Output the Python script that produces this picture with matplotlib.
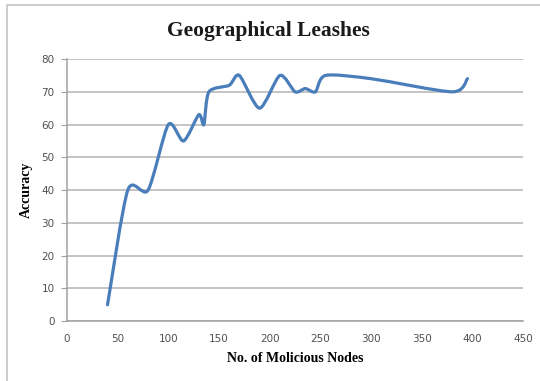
import matplotlib
matplotlib.use('Agg')
import matplotlib.pyplot as plt
from matplotlib.path import Path
from matplotlib.patches import PathPatch
from matplotlib.lines import Line2D

nodes = [40, 60, 80, 100, 115, 130, 135, 140, 160, 170, 190, 210, 225, 235, 245, 255, 300, 380, 395]
accuracy = [5, 40, 40, 60, 55, 63, 60, 70, 72, 75, 65, 75, 70, 71, 70, 75, 74, 70, 74]
x_ticks = [0, 50, 100, 150, 200, 250, 300, 350, 400, 450]
y_ticks = [0, 10, 20, 30, 40, 50, 60, 70, 80]


def smooth_path(xs, ys, k=0.13):
    # Excel-like smoothed line: cubic bezier segments, catmull-rom style tangents
    verts = [(xs[0], ys[0])]
    codes = [Path.MOVETO]
    n = len(xs)
    for i in range(n - 1):
        x0, y0 = (xs[i - 1], ys[i - 1]) if i > 0 else (xs[i], ys[i])
        x1, y1 = xs[i], ys[i]
        x2, y2 = xs[i + 1], ys[i + 1]
        x3, y3 = (xs[i + 2], ys[i + 2]) if i + 2 < n else (x2, y2)
        c1 = (x1 + (x2 - x0) * k, y1 + (y2 - y0) * k)
        c2 = (x2 - (x3 - x1) * k, y2 - (y3 - y1) * k)
        verts += [c1, c2, (x2, y2)]
        codes += [Path.CURVE4] * 3
    return Path(verts, codes)


fig = plt.figure(figsize=(5.4, 3.81), dpi=100)
# chart frame (only left and top edges are visible in the picture)
fig.lines.append(Line2D([7 / 540, 7 / 540, 1.0], [0.0, 1 - 5 / 381, 1 - 5 / 381],
                        transform=fig.transFigure, color='#c8c8c8', linewidth=1.3))
ax = fig.add_axes([0.124, 0.157, 0.845, 0.688])

ax.add_patch(PathPatch(smooth_path(nodes, accuracy), facecolor='none', edgecolor='#4a7ebb',
                       linewidth=2.3, capstyle='round', joinstyle='round', zorder=3))

ax.set_xlim(0, 450)
ax.set_ylim(0, 80)
ax.set_xticks(x_ticks)
ax.set_yticks(y_ticks)
ax.grid(axis='y', color='#b4b4b4', linewidth=1.1)
ax.set_axisbelow(True)
for s in ['top', 'right']:
    ax.spines[s].set_visible(False)
for s in ['left', 'bottom']:
    ax.spines[s].set_color('#a0a0a0')
    ax.spines[s].set_linewidth(1.1)
ax.tick_params(axis='x', length=0, pad=9, labelsize=7.5, labelcolor='#505050')
ax.tick_params(axis='y', length=4, color='#a0a0a0', pad=5, labelsize=7.5, labelcolor='#505050')

fig.text(0.497, 0.918, 'Geographical Leashes', ha='center', va='center',
         fontsize=15.5, fontweight='bold', family='Liberation Serif', color='#1a1a1a')
ax.set_xlabel('No. of Molicious Nodes', fontsize=10, fontweight='bold',
              family='Liberation Serif', labelpad=6)
ax.set_ylabel('Accuracy', fontsize=10, fontweight='bold', family='Liberation Serif')
ax.yaxis.set_label_coords(-0.075, 0.5)

fig.savefig('out.png', dpi=100)
